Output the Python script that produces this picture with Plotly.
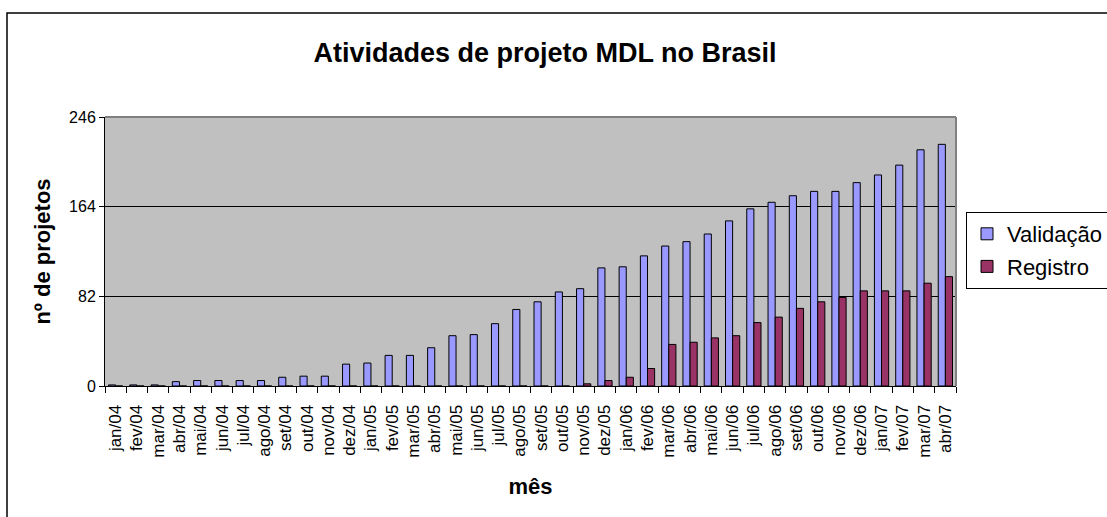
import plotly.graph_objects as go

meses = ["jan/04", "fev/04", "mar/04", "abr/04", "mai/04", "jun/04", "jul/04", "ago/04",
         "set/04", "out/04", "nov/04", "dez/04", "jan/05", "fev/05", "mar/05", "abr/05",
         "mai/05", "jun/05", "jul/05", "ago/05", "set/05", "out/05", "nov/05", "dez/05",
         "jan/06", "fev/06", "mar/06", "abr/06", "mai/06", "jun/06", "jul/06", "ago/06",
         "set/06", "out/06", "nov/06", "dez/06", "jan/07", "fev/07", "mar/07", "abr/07"]

validacao = [1, 1, 1, 4, 5, 5, 5, 5, 8, 9, 9, 20,
             21, 28, 28, 35, 46, 47, 57, 70, 77, 86, 89, 108,
             109, 119, 128, 132, 139, 151, 162, 168, 174, 178, 178, 186,
             193, 202, 216, 221]

registro = [0, 0, 0, 0, 0, 0, 0, 0, 0, 0, 0, 0,
            0, 0, 0, 0, 0, 0, 0, 0, 0, 0, 2, 5,
            8, 16, 38, 40, 44, 46, 58, 63, 71, 77, 81, 87,
            87, 87, 94, 100]

y_ticks = [0, 82, 164, 246]

FONT = "Arial, Liberation Sans, sans-serif"

fig = go.Figure()
fig.add_trace(go.Bar(x=meses, y=validacao, name="Validação",
                     marker=dict(color="#9999FF", line=dict(color="black", width=1)),
                     legendgroup="a"))
fig.add_trace(go.Bar(x=meses, y=registro, name="Registro",
                     marker=dict(color="#993366", line=dict(color="black", width=1)),
                     legendgroup="b"))

L, R, T, B = 105, 151, 117, 131
W, H = 1107, 517
pw = W - L - R
ph = H - T - B

def px(x):
    return (x - L) / pw

def py(y):
    return (H - B - y) / ph

fig.update_layout(
    width=W, height=H,
    margin=dict(l=L, r=R, t=T, b=B, pad=0, autoexpand=False),
    paper_bgcolor="white",
    plot_bgcolor="#C0C0C0",
    barmode="group",
    bargap=0.33,
    bargroupgap=0,
    hovermode=False,
    font=dict(family=FONT, color="black", size=16),
    title=dict(text="<b>Atividades de projeto MDL no Brasil</b>",
               x=545 / W, xanchor="center", xref="container",
               y=1 - 53 / H, yanchor="middle", yref="container",
               font=dict(size=27, family=FONT, color="black")),
    legend=dict(x=px(966), y=py(212), xanchor="left", yanchor="top",
                bordercolor="black", borderwidth=1, bgcolor="white",
                font=dict(size=22, family=FONT, color="black"),
                traceorder="grouped", tracegroupgap=1),
    xaxis=dict(type="category", tickangle=-90, tickson="boundaries",
               ticks="outside", ticklen=6, tickcolor="black",
               ticklabelstandoff=11,
               showline=True, linecolor="black", linewidth=1,
               showgrid=False,
               tickfont=dict(size=17, family=FONT, color="black"),
               title=dict(text="<b>mês</b>", font=dict(size=22, family=FONT, color="black"),
                          standoff=21)),
    yaxis=dict(range=[0, 246], tickvals=y_ticks, ticktext=[str(v) for v in y_ticks],
               ticks="outside", ticklen=5, tickcolor="black",
               showline=True, linecolor="black", linewidth=1,
               showgrid=True, gridcolor="black", gridwidth=1,
               zeroline=False,
               tickfont=dict(size=16, family=FONT, color="black"),
               title=dict(text="<b>nº de projetos</b>", font=dict(size=22, family=FONT, color="black"),
                          standoff=12)),
    showlegend=True,
    shapes=[
        dict(type="line", xref="paper", yref="paper", x0=0, x1=1, y0=1, y1=1,
             line=dict(color="#808080", width=2)),
        dict(type="line", xref="paper", yref="paper", x0=1, x1=1, y0=0, y1=1,
             line=dict(color="#808080", width=2)),
        dict(type="rect", xref="paper", yref="paper",
             x0=px(7), x1=px(1115), y0=py(525), y1=py(13),
             line=dict(color="black", width=1.5), fillcolor="rgba(0,0,0,0)", layer="above"),
    ],
)

fig.write_html("out.html", config={"displayModeBar": False},
               post_script="document.body.style.margin='0px';document.body.style.overflow='hidden';")
